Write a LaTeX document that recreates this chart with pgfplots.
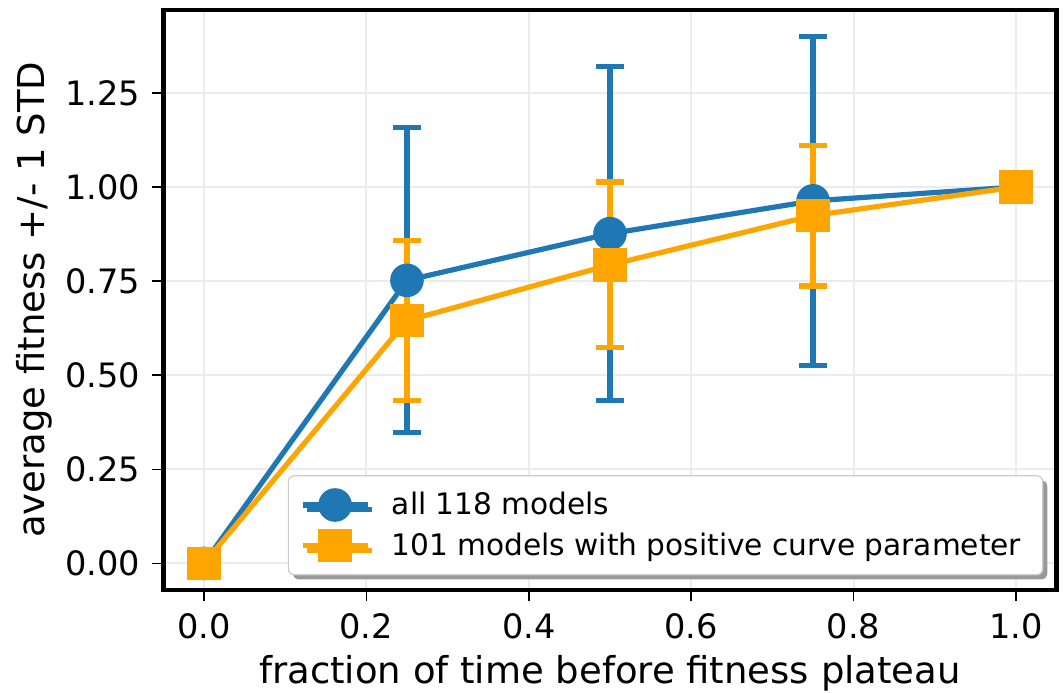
\documentclass[border=0pt]{standalone}
\usepackage{pgfplots}
\usepackage{pgfplotstable}
\pgfplotsset{compat=1.18}
\usepackage{fontspec}
\setmainfont{DejaVu Sans}
\usetikzlibrary{shadows}
\definecolor{mplblue}{HTML}{1F77B4}
\definecolor{mplorange}{HTML}{FFA500}
\definecolor{gridgray}{HTML}{EBEBEB}
\definecolor{legframe}{HTML}{CCCCCC}

\pgfplotstableread{
x y e
0 0 0
0.25 0.752 0.405
0.5 0.876 0.443
0.75 0.963 0.437
1 1 0
}\bluedata
\pgfplotstableread{
x y e
0 0 0
0.25 0.645 0.213
0.5 0.793 0.220
0.75 0.924 0.187
1 1 0
}\orangedata

\begin{document}
\begin{tikzpicture}
\begin{axis}[
  at={(0,0)}, anchor=south west,
  scale only axis, width=446.7pt, height=289.9pt,
  xmin=-0.05, xmax=1.05, ymin=-0.07, ymax=1.47,
  xtick={0,0.2,0.4,0.6,0.8,1},
  ytick={0,0.25,0.5,0.75,1,1.25},
  grid=major,
  major grid style={draw=gridgray, line width=1pt},
  axis line style={line width=2.3pt, line join=miter, line cap=rect},
  tick pos=left, tick align=outside,
  major tick length=5.6pt,
  every tick/.style={black, line width=0.8pt},
  /pgf/number format/assume math mode=true,
  ticklabel style={font=\fontsize{16.8}{20}\selectfont},
  xticklabel style={anchor=base, yshift=-18.5pt, /pgf/number format/.cd, fixed, fixed zerofill, precision=1},
  yticklabel style={anchor=east, inner xsep=0pt, xshift=-5.8pt, /pgf/number format/.cd, fixed, fixed zerofill, precision=2},
  xlabel={fraction of time before fitness plateau},
  ylabel={average fitness +/- 1 STD},
  every axis x label/.style={at={(axis description cs:0.5,0)}, anchor=center, yshift=-41.8pt, font=\fontsize{18.5}{22}\selectfont},
  every axis y label/.style={at={(axis description cs:0,0.5)}, anchor=center, rotate=90, yshift=64.7pt, font=\fontsize{18.5}{22}\selectfont},
  legend style={
    at={(axis description cs:1,0)}, anchor=south east, xshift=-6.7pt, yshift=7.2pt,
    draw=legframe, line width=0.6pt, rounded corners=3pt, fill=white,
    drop shadow={shadow xshift=2.3pt, shadow yshift=-2.3pt, fill=black!40, opacity=1},
    inner xsep=5.8pt, inner ysep=7.5pt, row sep=6.1pt,
    nodes={inner sep=0pt, anchor=west},
    font=\fontsize{14.8}{17}\selectfont,
  },
  legend cell align=left,
  legend image code/.code={
    \draw[#1, mark repeat=2, mark phase=2] plot coordinates {(0pt,0pt) (16.25pt,0pt) (32.5pt,0pt)};
    \path (43.35pt,0pt);
  },
]
% error bars (drawn under all lines)
\addplot[forget plot, only marks, mark=none,
  skip coords between index={0}{1}, skip coords between index={4}{5},
  error bars/.cd, y dir=both, y explicit,
  error bar style={draw=mplblue, line width=2.6pt},
  error mark options={rotate=90, mark size=6.8pt, draw=mplblue, line width=2.6pt}]
  table[x=x, y=y, y error=e] {\bluedata};
\addplot[forget plot, only marks, mark=none,
  skip coords between index={0}{1}, skip coords between index={4}{5},
  error bars/.cd, y dir=both, y explicit,
  error bar style={draw=mplorange, line width=2.6pt},
  error mark options={rotate=90, mark size=6.8pt, draw=mplorange, line width=2.6pt}]
  table[x=x, y=y, y error=e] {\orangedata};
% lines with markers
\addplot[mplblue, line width=2.6pt, mark=*, mark size=7.1pt,
  mark options={solid, fill=mplblue, draw=none}]
  table[x=x, y=y] {\bluedata};
\addlegendentry{all 118 models}
\addplot[mplorange, line width=2.6pt, mark=square*, mark size=7.1pt,
  mark options={solid, fill=mplorange, draw=none}]
  table[x=x, y=y] {\orangedata};
\addlegendentry{101 models with positive curve parameter\hspace*{5pt}}
\end{axis}
\pgfresetboundingbox
\useasboundingbox (-81.65pt,-51.1pt) rectangle (450.35pt,294.9pt);
\end{tikzpicture}
\end{document}
